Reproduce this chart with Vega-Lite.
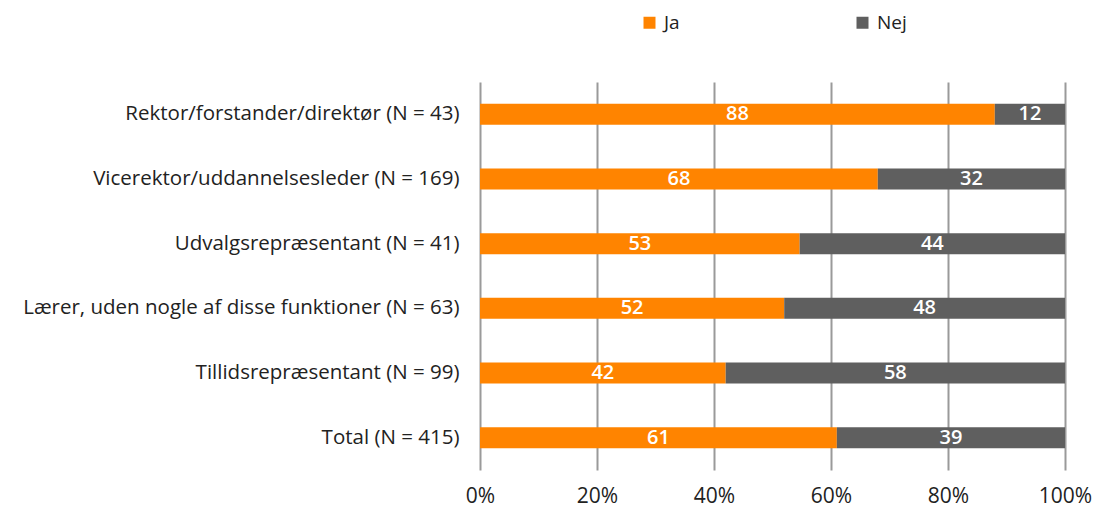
{
  "$schema": "https://vega.github.io/schema/vega-lite/v6.json",
  "width": 585,
  "height": 388,
  "autosize": {"type": "none"},
  "padding": {"left": 480, "top": 82, "right": 31, "bottom": 36},
  "background": "white",
  "config": {
    "font": "Open Sans",
    "view": {"stroke": null}
  },
  "data": {
    "values": [
      {"gruppe": "Rektor/forstander/direktør (N = 43)", "svar": "Ja", "pct": 88},
      {"gruppe": "Rektor/forstander/direktør (N = 43)", "svar": "Nej", "pct": 12},
      {"gruppe": "Vicerektor/uddannelsesleder (N = 169)", "svar": "Ja", "pct": 68},
      {"gruppe": "Vicerektor/uddannelsesleder (N = 169)", "svar": "Nej", "pct": 32},
      {"gruppe": "Udvalgsrepræsentant (N = 41)", "svar": "Ja", "pct": 53},
      {"gruppe": "Udvalgsrepræsentant (N = 41)", "svar": "Nej", "pct": 44},
      {"gruppe": "Lærer, uden nogle af disse funktioner (N = 63)", "svar": "Ja", "pct": 52},
      {"gruppe": "Lærer, uden nogle af disse funktioner (N = 63)", "svar": "Nej", "pct": 48},
      {"gruppe": "Tillidsrepræsentant (N = 99)", "svar": "Ja", "pct": 42},
      {"gruppe": "Tillidsrepræsentant (N = 99)", "svar": "Nej", "pct": 58},
      {"gruppe": "Total (N = 415)", "svar": "Ja", "pct": 61},
      {"gruppe": "Total (N = 415)", "svar": "Nej", "pct": 39}
    ]
  },
  "encoding": {
    "y": {
      "field": "gruppe",
      "type": "nominal",
      "sort": null,
      "title": null,
      "axis": {
        "ticks": false,
        "domain": false,
        "labelFontSize": 20.5,
        "labelColor": "#222222",
        "labelPadding": 21,
        "labelLimit": 500
      }
    }
  },
  "layer": [
    {
      "mark": {"type": "bar", "size": 21},
      "encoding": {
        "x": {
          "field": "pct",
          "type": "quantitative",
          "stack": "normalize",
          "title": null,
          "axis": {
            "format": ".0%",
            "values": [0, 0.2, 0.4, 0.6, 0.8, 1],
            "grid": true,
            "gridColor": "#9a9a9a",
            "gridWidth": 2,
            "gridOpacity": 1,
            "domain": false,
            "ticks": false,
            "labelFontSize": 21,
            "labelColor": "#222222",
            "labelPadding": 15,
            "labelOverlap": false,
            "labelFlush": false,
            "labelBound": false
          }
        },
        "color": {
          "field": "svar",
          "type": "nominal",
          "scale": {"domain": ["Ja", "Nej"], "range": ["#FF8400", "#5F5F5F"]},
          "legend": {
            "title": null,
            "orient": "none",
            "direction": "horizontal",
            "legendX": 160,
            "legendY": -69,
            "symbolType": "square",
            "symbolSize": 144,
            "symbolStrokeWidth": 0,
            "labelFontSize": 19,
            "labelColor": "#222222",
            "labelOffset": 5,
            "columnPadding": 173,
            "padding": 0
          }
        },
        "order": {"field": "svar", "sort": "ascending"}
      }
    },
    {
      "mark": {"type": "text", "color": "white", "fontSize": 20, "fontWeight": 600, "baseline": "middle", "align": "center"},
      "encoding": {
        "x": {"field": "pct", "type": "quantitative", "stack": "normalize", "bandPosition": 0.5},
        "text": {"field": "pct", "type": "quantitative"},
        "detail": {"field": "svar"},
        "order": {"field": "svar", "sort": "ascending"}
      }
    }
  ]
}
